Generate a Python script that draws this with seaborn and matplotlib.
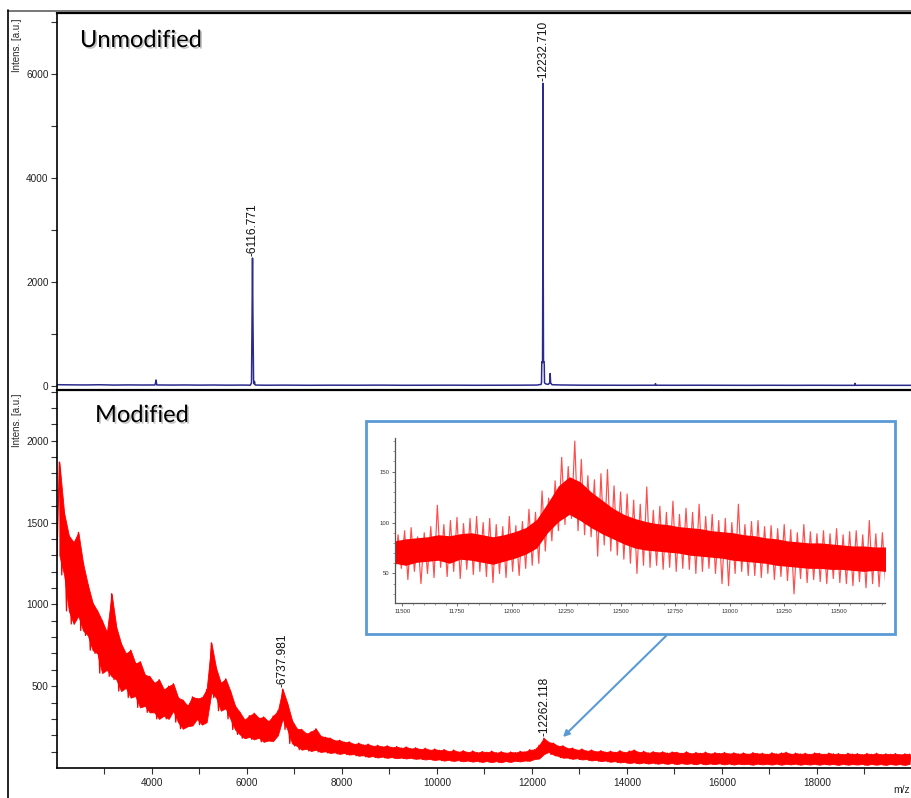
import numpy as np
import pandas as pd
import matplotlib
matplotlib.use("Agg")
import matplotlib.pyplot as plt
import seaborn as sns
from matplotlib.lines import Line2D
from matplotlib.patches import Rectangle, FancyArrowPatch
import matplotlib.patheffects as pe

# ---------------- data ----------------
# Unmodified spectrum (blue)
UNMOD_MZ = [2000, 2300, 2600, 2900, 3200, 3500, 3800, 4060, 4075, 4085, 4100, 4400, 4700,
            5000, 5300, 5600, 5900, 6070, 6095, 6108, 6116, 6124, 6138, 6150, 6158, 6166,
            6180, 6400, 6800, 7300, 7800, 8300, 8800, 9300, 9800, 10300, 10800, 11300,
            11800, 12100, 12190, 12200, 12206, 12214, 12222, 12228, 12232, 12236, 12242,
            12250, 12258, 12264, 12290, 12340, 12372, 12382, 12392, 12420, 12600, 13000,
            13500, 14000, 14500, 14590, 14600, 14610, 15000, 15500, 16000, 16500, 17000,
            17500, 18000, 18500, 18790, 18800, 18810, 19000, 19500, 20000]
UNMOD_INT = [25, 22, 20, 24, 18, 21, 19, 20, 60, 115, 20, 18, 20,
             17, 19, 16, 18, 16, 60, 1500, 2460, 1400, 120, 40, 85, 30,
             18, 15, 17, 14, 16, 15, 17, 14, 15, 16, 14, 15,
             16, 18, 30, 60, 440, 470, 450, 2500, 5820, 2500, 460,
             470, 420, 60, 40, 30, 60, 240, 60, 25, 20, 16,
             15, 14, 15, 15, 45, 15, 14, 15, 14, 13, 14,
             13, 14, 13, 13, 50, 13, 14, 13, 13]

# Modified spectrum (red), m/z 2000..20000 every 50, alternating low / high readings
MOD_INT = [
    1300, 1870, 1180, 1560, 960, 1420, 880, 1380, 930, 1440, 840, 1250, 810, 1120, 720, 1010, 700, 960, 580, 900,
    600, 830, 560, 1065, 540, 860, 470, 760, 490, 700, 430, 720, 440, 640, 370, 650, 380, 570, 340, 560,
    340, 520, 300, 540, 320, 480, 300, 500, 350, 515, 280, 430, 240, 415, 255, 380, 260, 435, 300, 425,
    265, 430, 280, 480, 460, 765, 430, 610, 350, 520, 365, 545, 300, 470, 235, 380, 205, 340, 182, 295,
    190, 320, 175, 335, 185, 305, 160, 312, 168, 285, 165, 318, 200, 350, 300, 482, 235, 395, 150, 290,
    135, 240, 112, 236, 118, 210, 104, 222, 112, 240, 98, 196, 102, 188, 92, 183, 96, 168, 86, 170,
    92, 158, 82, 160, 85, 146, 75, 152, 78, 141, 68, 146, 73, 134, 64, 139, 70, 130, 62, 136,
    67, 126, 60, 131, 64, 122, 58, 129, 63, 118, 56, 124, 59, 114, 52, 121, 56, 110, 49, 116,
    53, 108, 45, 113, 50, 101, 43, 110, 48, 98, 41, 106, 46, 96, 39, 104, 44, 94, 37, 101,
    43, 96, 36, 103, 42, 93, 35, 100, 43, 92, 37, 98, 45, 94, 40, 102, 46, 99, 44, 112,
    55, 112, 58, 140, 85, 182, 98, 158, 82, 152, 74, 134, 63, 136, 64, 120, 56, 122, 60, 110,
    52, 116, 55, 104, 46, 110, 50, 100, 42, 106, 46, 97, 38, 103, 42, 96, 34, 106, 38, 95,
    30, 104, 35, 110, 28, 96, 34, 102, 27, 92, 33, 100, 26, 94, 32, 99, 25, 91, 31, 98,
    24, 96, 30, 90, 25, 99, 29, 88, 23, 95, 30, 90, 22, 97, 28, 87, 24, 94, 29, 89,
    22, 95, 28, 87, 21, 93, 27, 86, 23, 92, 26, 85, 20, 94, 27, 88, 22, 90, 26, 84,
    21, 93, 27, 86, 20, 92, 26, 96, 22, 85, 27, 91, 20, 86, 25, 90, 21, 84, 26, 92,
    20, 89, 26, 84, 21, 91, 25, 86, 19, 88, 26, 83, 20, 90, 24, 85, 21, 88, 25, 82,
    19, 89, 25, 84, 20, 90, 24, 83, 19, 87, 25, 84, 20, 88, 24, 82, 19, 87, 25, 85, 22,
]
MOD_MZ = np.arange(2000, 2000 + 50 * len(MOD_INT), 50)

# Inset zoom: spikes (11465..13730 every 15), alternating low / high readings
INSET_INT = [
    48, 88, 55, 92, 44, 95, 52, 86, 40, 90,
    50, 96, 46, 117, 56, 98, 47, 102, 52, 105,
    45, 99, 54, 104, 49, 106, 52, 100, 47, 104,
    41, 98, 50, 96, 46, 106, 52, 97, 48, 101,
    55, 113, 58, 110, 60, 131, 72, 124, 82, 141,
    92, 164, 98, 155, 104, 180, 92, 162, 88, 146,
    86, 142, 67, 148, 78, 152, 72, 136, 68, 130,
    64, 128, 60, 122, 50, 118, 58, 135, 56, 112,
    58, 116, 54, 110, 56, 121, 52, 108, 55, 114,
    54, 110, 50, 118, 52, 106, 55, 108, 50, 102,
    40, 104, 38, 100, 50, 118, 52, 98, 48, 101,
    48, 102, 46, 96, 50, 97, 44, 94, 47, 98,
    43, 93, 30, 90, 45, 98, 41, 91, 44, 89,
    42, 92, 40, 89, 45, 94, 41, 88, 40, 91,
    38, 92, 42, 88, 36, 102, 40, 89, 37, 90,
    40, 88,
]
INSET_MZ = np.arange(11465, 11465 + 15 * len(INSET_INT), 15)

# Inset zoom: dense core of the trace (11465..13715 every 50)
INSET_CORE_LO = [60, 58, 61, 62, 63, 60, 64, 63, 61, 59, 62, 65, 69, 75, 90, 101,
                 108, 102, 95, 89, 84, 79, 75, 73, 72, 71, 70, 68, 67, 66, 65, 63,
                 62, 61, 60, 58, 57, 56, 55, 55, 54, 54, 53, 52, 53, 52]
INSET_CORE_HI = [82, 84, 85, 86, 88, 87, 89, 90, 88, 86, 88, 91, 95, 103, 119, 136,
                 145, 140, 130, 122, 114, 108, 104, 101, 99, 98, 96, 95, 94, 92, 91, 90,
                 88, 87, 85, 84, 82, 81, 80, 80, 79, 78, 77, 77, 76, 76]
INSET_CORE_MZ = np.arange(11465, 11465 + 50 * len(INSET_CORE_LO), 50)

PEAKS_UNMOD = [(6116.771, 2460, "-6116.771"), (12232.710, 5820, "-12232.710")]
PEAKS_MOD = [(6737.981, 482, "-6737.981"), (12262.118, 182, "-12262.118")]

TOP_MAJOR = [0, 2000, 4000, 6000]
TOP_MINOR = [1000, 3000, 5000, 7000]
BOT_MAJOR = [500, 1000, 1500, 2000]
X_MAJOR = [4000, 6000, 8000, 10000, 12000, 14000, 16000, 18000]
INSET_XMAJOR = [11500, 11750, 12000, 12250, 12500, 12750, 13000, 13250, 13500]
INSET_YMAJOR = [50, 100, 150]

# ---------------- figure ----------------
sns.set_theme(style="ticks")
plt.rcParams['font.family'] = ['Liberation Sans', 'DejaVu Sans']

W, H = 912, 798
fig = plt.figure(figsize=(W / 100, H / 100), dpi=100)


def fx(px):
    return px / W


def fy(py):
    return 1 - py / H


BLUE = "#2B2B8E"
RED = "#FF0000"
LBLUE = "#5B9BD5"

ax_top = fig.add_axes([fx(57), fy(390), fx(912) - fx(57), fy(13) - fy(390)])
ax_bot = fig.add_axes([fx(57), fy(768), fx(912) - fx(57), fy(390) - fy(768)])

unmod = pd.DataFrame({"mz": UNMOD_MZ, "intens": UNMOD_INT})
mod = pd.DataFrame({"mz": MOD_MZ, "intens": MOD_INT})
ins = pd.DataFrame({"mz": INSET_MZ, "intens": INSET_INT})

sns.lineplot(data=unmod, x="mz", y="intens", ax=ax_top, color=BLUE, lw=1.1,
             estimator=None, sort=False)

# modified: solid band between low and high readings + thin trace on top
mz_pairs = MOD_MZ[1::2]
lo_vals = np.array(MOD_INT[0:-1:2])
hi_vals = np.array(MOD_INT[1::2])
ax_bot.fill_between(mz_pairs, lo_vals, hi_vals, color=RED, lw=0.6, edgecolor=RED)
sns.lineplot(data=mod, x="mz", y="intens", ax=ax_bot, color=RED, lw=0.9,
             estimator=None, sort=False)

for ax in (ax_top, ax_bot):
    ax.set_xlim(2000, 20000)
    ax.set_xlabel("")
    ax.set_ylabel("")
    ax.spines["right"].set_visible(False)
    for s in ("left", "bottom", "top"):
        ax.spines[s].set_color("black")
        ax.spines[s].set_linewidth(1.2)
    ax.tick_params(axis="y", which="both", direction="out", length=4, width=0.8,
                   labelsize=7.2, pad=2, labelcolor="#222222", color="#333333")

ax_top.set_ylim(-77, 7173)
ax_top.set_yticks(TOP_MAJOR)
ax_top.set_yticks(TOP_MINOR, minor=True)
ax_top.spines["bottom"].set_visible(False)
ax_top.spines["top"].set_linewidth(1.6)
ax_top.tick_params(axis="x", which="both", bottom=False, labelbottom=False)

ax_bot.set_ylim(0, 2310)
ax_bot.set_yticks(BOT_MAJOR)
ax_bot.set_yticks([v for v in range(100, 2301, 100) if v not in BOT_MAJOR], minor=True)
ax_bot.set_xticks(X_MAJOR)
ax_bot.set_xticks([v for v in range(3000, 20000, 2000)], minor=True)
ax_bot.tick_params(axis="x", which="both", direction="out", length=4, width=0.8,
                   labelsize=7.2, pad=3, labelcolor="#222222", color="#333333")
ax_bot.spines["top"].set_linewidth(1.6)

# peak labels
for ax, peaks in ((ax_top, PEAKS_UNMOD), (ax_bot, PEAKS_MOD)):
    for mz, h, lab in peaks:
        ax.annotate(lab, xy=(mz, h), xytext=(0, 1.5), textcoords="offset points",
                    rotation=90, ha="center", va="bottom", fontsize=8.6, color="#111111")

# titles with soft shadow
shadow = [pe.SimplePatchShadow(offset=(1.2, -1.2), shadow_rgbFace="#888888", alpha=0.5), pe.Normal()]
fig.text(fx(80), fy(47), "Unmodified", fontsize=17, family=["Lato", "DejaVu Sans"],
         ha="left", va="baseline", color="black", path_effects=shadow)
fig.text(fx(95), fy(422), "Modified", fontsize=17, family=["Lato", "DejaVu Sans"],
         ha="left", va="baseline", color="black", path_effects=shadow)

# y labels and x label
fig.text(fx(17), fy(18), "Intens. [a.u.]", rotation=90, ha="center", va="top", fontsize=7)
fig.text(fx(17), fy(394), "Intens. [a.u.]", rotation=90, ha="center", va="top", fontsize=7)
fig.text(fx(893), fy(785), "m/z", ha="left", va="top", fontsize=7.5)

# outer frame lines
fig.add_artist(Line2D([fx(8), fx(912)], [fy(10.5), fy(10.5)], color="#777777", lw=1.4))
fig.add_artist(Line2D([fx(8), fx(8)], [fy(10), fy(798)], color="black", lw=1.2))

# inset box
box = Rectangle((fx(366), fy(634)), fx(895) - fx(366), fy(421) - fy(634),
                transform=fig.transFigure, facecolor="white", edgecolor=LBLUE,
                lw=2, zorder=5)
fig.add_artist(box)

ax_in = fig.add_axes([fx(395), fy(603), fx(885) - fx(395), fy(438) - fy(603)], zorder=6)
ax_in.fill_between(INSET_CORE_MZ, INSET_CORE_LO, INSET_CORE_HI, color=RED, lw=0)
sns.lineplot(data=ins, x="mz", y="intens", ax=ax_in, color=RED, lw=0.85, alpha=0.7,
             estimator=None, sort=False)
ax_in.set_xlim(11466, 13712)
ax_in.set_ylim(21, 183)
ax_in.set_xlabel("")
ax_in.set_ylabel("")
ax_in.set_xticks(INSET_XMAJOR)
ax_in.set_xticks([v for v in range(11500, 13711, 50) if v not in INSET_XMAJOR], minor=True)
ax_in.set_yticks(INSET_YMAJOR)
ax_in.set_yticks([v for v in range(30, 181, 10) if v not in INSET_YMAJOR], minor=True)
for s in ("top", "right"):
    ax_in.spines[s].set_visible(False)
for s in ("left", "bottom"):
    ax_in.spines[s].set_color("#555555")
    ax_in.spines[s].set_linewidth(0.9)
ax_in.tick_params(which="major", direction="out", length=2.5, width=0.6, labelsize=4.3,
                  pad=1.5, labelcolor="#333333", color="#555555")
ax_in.tick_params(which="minor", direction="out", length=1.5, width=0.5, color="#777777")

# arrow from inset to the peak
arr = FancyArrowPatch((fx(668), fy(634)), (fx(561), fy(739)), transform=fig.transFigure,
                      arrowstyle="-|>", mutation_scale=9, color=LBLUE, lw=1.5, zorder=7)
fig.add_artist(arr)

fig.savefig("out.png", dpi=100)
